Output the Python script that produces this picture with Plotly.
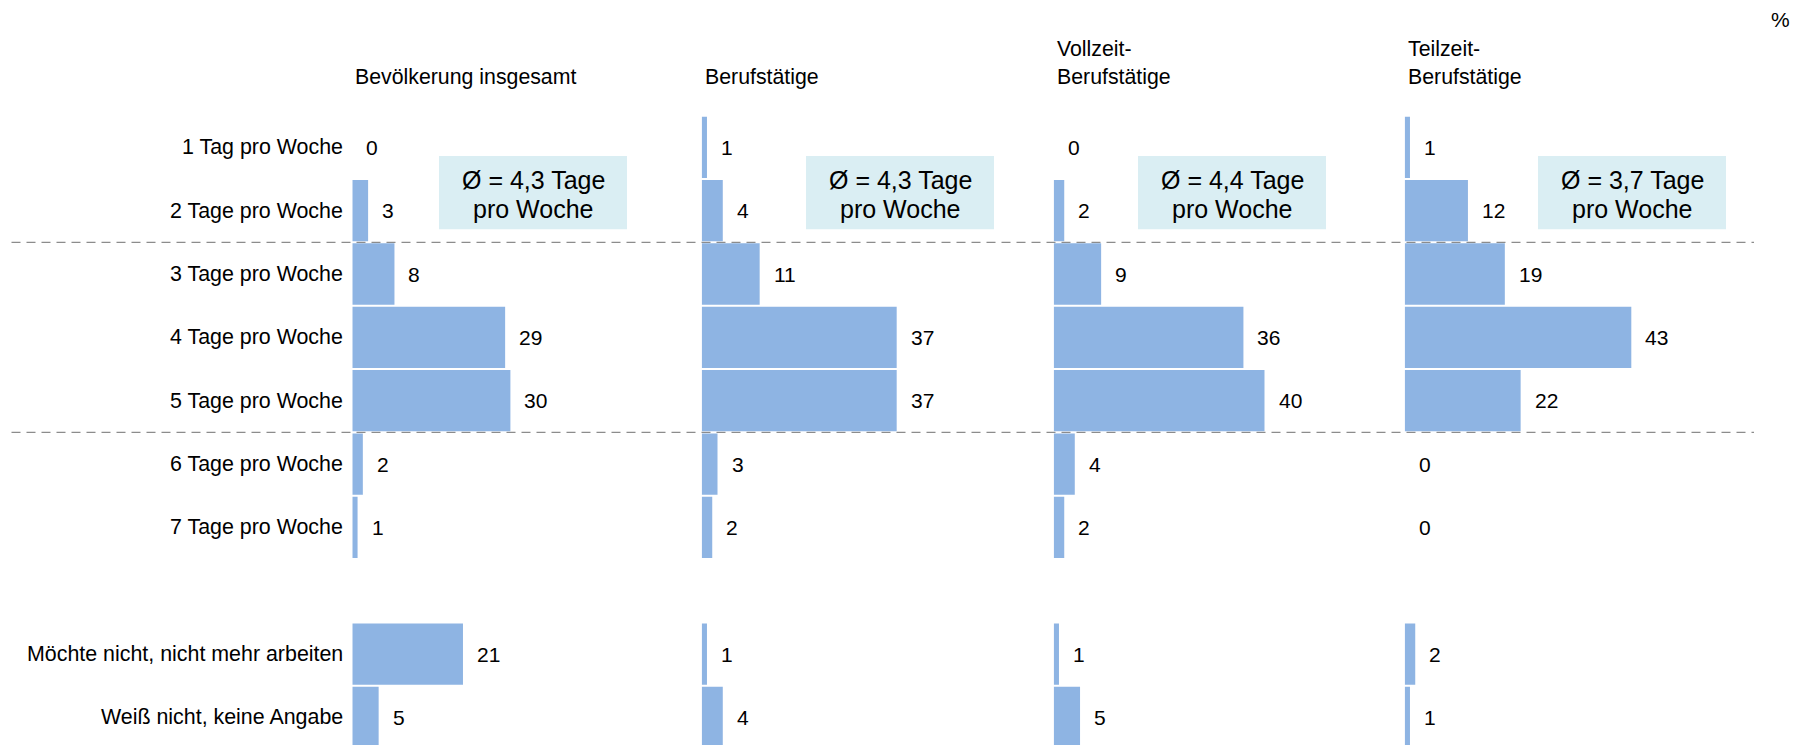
import plotly.graph_objects as go

W, H = 1807, 745

categories = [
    "1 Tag pro Woche", "2 Tage pro Woche", "3 Tage pro Woche", "4 Tage pro Woche",
    "5 Tage pro Woche", "6 Tage pro Woche", "7 Tage pro Woche",
    "Möchte nicht, nicht mehr arbeiten", "Weiß nicht, keine Angabe",
]
panel_titles = ["Bevölkerung insgesamt", "Berufstätige", "Vollzeit-<br>Berufstätige", "Teilzeit-<br>Berufstätige"]
bevoelkerung = [0, 3, 8, 29, 30, 2, 1, 21, 5]
berufstaetige = [1, 4, 11, 37, 37, 3, 2, 1, 4]
vollzeit = [0, 2, 9, 36, 40, 4, 2, 1, 5]
teilzeit = [1, 12, 19, 43, 22, 0, 0, 2, 1]
averages = ["4,3", "4,3", "4,4", "3,7"]

series = [bevoelkerung, berufstaetige, vollzeit, teilzeit]

# layout geometry (pixels)
rows = [0, 1, 2, 3, 4, 5, 6, 8, 9]  # row 7 left blank
row0, row_h = 147.3, 63.35
zero_px = [352.3, 701.7, 1053.7, 1404.7]
px_per_unit = 5.27
dom_w = 300
box_x = [(439, 627), (806, 994), (1138, 1326), (1538, 1726)]
box_y = (156, 229.3)
box_line_y = (180.5, 209.5)
title_y = [77, 77, 62.5, 62.5]

BAR = "#8EB4E3"
BOX = "#DAEEF3"
FONT = "Liberation Sans, Arial, sans-serif"
TXT = "#000000"

fig = go.Figure()
layout_axes = {}
annotations = []
shapes = []

for i, vals in enumerate(series):
    ax = "x" if i == 0 else f"x{i+1}"
    axname = "xaxis" if i == 0 else f"xaxis{i+1}"
    fig.add_trace(go.Bar(
        x=vals, y=rows, orientation="h", xaxis=ax, yaxis="y",
        marker=dict(color=BAR, line=dict(width=0)), width=0.968,
        hoverinfo="skip", showlegend=False,
    ))
    layout_axes[axname] = dict(
        domain=[zero_px[i] / W, (zero_px[i] + dom_w) / W],
        range=[0, dom_w / px_per_unit], anchor="y",
        showgrid=False, zeroline=False, showticklabels=False, showline=False, ticks="",
    )
    for r, v in zip(rows, vals):
        annotations.append(dict(
            x=v, y=r, xref=ax, yref="y", text=str(v), showarrow=False,
            xanchor="left", yanchor="middle", xshift=12,
            font=dict(family=FONT, size=21, color=TXT),
        ))
    # panel title
    annotations.append(dict(
        x=(zero_px[i] + 1) / W, y=1 - title_y[i] / H, xref="paper", yref="paper",
        text=panel_titles[i], showarrow=False, xanchor="left", yanchor="middle", align="left",
        font=dict(family=FONT, size=21.3, color=TXT),
    ))
    # average box
    x0, x1 = box_x[i]
    shapes.append(dict(
        type="rect", xref="paper", yref="paper",
        x0=x0 / W, x1=x1 / W, y0=1 - box_y[1] / H, y1=1 - box_y[0] / H,
        fillcolor=BOX, line=dict(width=0), layer="below",
    ))
    for line_text, ly in zip([f"Ø = {averages[i]} Tage", "pro Woche"], box_line_y):
        annotations.append(dict(
            x=(x0 + x1) / 2 / W, y=1 - ly / H, xref="paper", yref="paper",
            text=line_text, showarrow=False,
            xanchor="center", yanchor="middle", align="center",
            font=dict(family=FONT, size=25, color=TXT),
        ))

for r, c in zip(rows, categories):
    annotations.append(dict(
        x=345 / W, y=r, xref="paper", yref="y", text=c, showarrow=False,
        xanchor="right", yanchor="middle",
        font=dict(family=FONT, size=21.4, color=TXT),
    ))

annotations.append(dict(
    x=1780 / W, y=1 - 20 / H, xref="paper", yref="paper", text="%", showarrow=False,
    xanchor="center", yanchor="middle", font=dict(family=FONT, size=21, color=TXT),
))

for yb in (1.5, 4.5):
    shapes.append(dict(
        type="line", xref="paper", yref="y", x0=11.5 / W, x1=1754 / W, y0=yb, y1=yb,
        line=dict(color="#8C8C8C", width=1.4, dash="9px,6px"), layer="below",
    ))

fig.update_layout(
    width=W, height=H, margin=dict(l=0, r=0, t=0, b=0),
    paper_bgcolor="white", plot_bgcolor="rgba(0,0,0,0)",
    barmode="overlay", showlegend=False,
    yaxis=dict(
        domain=[0, 1], range=[(H - row0) / row_h, -row0 / row_h],
        showgrid=False, zeroline=False, showticklabels=False, showline=False, ticks="",
    ),
    annotations=annotations, shapes=shapes,
    **layout_axes,
)

fig.write_html("out.html")
